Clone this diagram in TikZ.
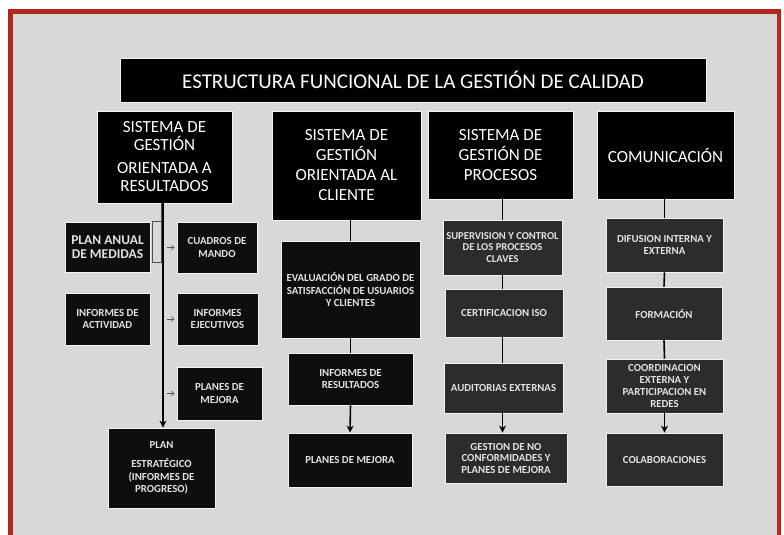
\documentclass[tikz,border=0pt]{standalone}
\usepackage{fontspec}
\setmainfont{Carlito}
\usetikzlibrary{arrows.meta}
\definecolor{frame}{HTML}{B0281E}
\definecolor{bggray}{HTML}{D8D8D8}
\definecolor{boxblack}{HTML}{0E0E0E}
\definecolor{boxgray}{HTML}{2C2C2C}
\definecolor{subtext}{HTML}{E2E2E2}
\begin{document}
\begin{tikzpicture}[x=1pt,y=-1pt,
  hdr/.style={fill=black, draw=white!90!gray, line width=0.8pt, text=white, align=center, inner sep=0pt,
    font=\fontsize{17}{20}\selectfont},
  sub/.style={fill=boxblack, draw=white!90!gray, line width=0.8pt, text=subtext, align=center, inner sep=0pt,
    font=\fontsize{10.8}{12.5}\selectfont\bfseries},
  subg/.style={sub, fill=boxgray},
  link/.style={line width=1.6pt, black},
  arr/.style={link, -{Stealth[length=7pt,width=7pt]}},
  smallarr/.style={gray!70!black, line width=0.6pt, -{Straight Barb[length=3pt,width=5pt]}},
  thinln/.style={gray!60!black, line width=0.7pt}]
\useasboundingbox (0,0) rectangle (784,535);
\fill[white] (0,0) rectangle (784,535);
\begin{scope}
\clip (0,0) rectangle (784,535);
\fill[bggray] (10.5,11.5) rectangle (779,560);
\draw[frame, line width=4.5pt] (10.5,11.5) rectangle (779,560);
\end{scope}

% title
\node[hdr, minimum width=586pt, minimum height=44pt, font=\fontsize{21}{24}\selectfont] (title) at (413,80)
  {ESTRUCTURA FUNCIONAL DE LA GESTIÓN DE CALIDAD};

% headers
\node[hdr, minimum width=135pt, minimum height=92pt, font=\fontsize{17}{18}\selectfont] (h1) at (164.5,157)
  {SISTEMA DE\\GESTIÓN\\[5pt]ORIENTADA A\\RESULTADOS};
\node[hdr, minimum width=149pt, minimum height=109pt] (h2) at (346.5,165.5)
  {SISTEMA DE\\GESTIÓN\\ORIENTADA AL\\CLIENTE};
\node[hdr, minimum width=145pt, minimum height=88pt] (h3) at (500.5,155)
  {SISTEMA DE\\GESTIÓN DE\\PROCESOS};
\node[hdr, minimum width=137pt, minimum height=88pt] (h4) at (665.5,155)
  {COMUNICACIÓN};

% column 1
\node[sub, minimum width=85pt, minimum height=50pt, font=\fontsize{13.5}{14.5}\selectfont\bfseries] (c1a) at (107.5,247)
  {PLAN ANUAL\\DE MEDIDAS};
\node[sub, minimum width=80pt, minimum height=51pt] (c1b) at (217,247.5)
  {CUADROS DE\\MANDO};
\node[sub, minimum width=85pt, minimum height=52pt] (c1c) at (107.5,319)
  {INFORMES DE\\ACTIVIDAD};
\node[sub, minimum width=81pt, minimum height=52pt] (c1d) at (217.5,319)
  {INFORMES\\EJECUTIVOS};
\node[sub, minimum width=85pt, minimum height=53pt] (c1e) at (219.5,393.5)
  {PLANES DE\\MEJORA};
\node[sub, minimum width=107pt, minimum height=80pt] (c1f) at (161.5,468)
  {PLAN\\[7pt]ESTRATÉGICO\\(INFORMES DE\\PROGRESO)};

% column 2
\node[sub, minimum width=139pt, minimum height=97pt] (c2a) at (350.5,289.5)
  {EVALUACIÓN DEL GRADO DE\\SATISFACCIÓN DE USUARIOS\\Y CLIENTES};
\node[sub, minimum width=125pt, minimum height=52pt] (c2b) at (350.5,379)
  {INFORMES DE\\RESULTADOS};
\node[sub, minimum width=124pt, minimum height=54pt] (c2c) at (350,460)
  {PLANES DE MEJORA};

% column 3
\node[subg, minimum width=119pt, minimum height=55pt, font=\fontsize{10.6}{11.5}\selectfont\bfseries] (c3a) at (502.5,247.5)
  {SUPERVISION Y CONTROL\\DE LOS PROCESOS\\CLAVES};
\node[subg, minimum width=118pt, minimum height=48pt] (c3b) at (504,313)
  {CERTIFICACION ISO};
\node[subg, minimum width=119pt, minimum height=50pt] (c3c) at (503.5,388)
  {AUDITORIAS EXTERNAS};
\node[subg, minimum width=122pt, minimum height=50pt, font=\fontsize{10.8}{11.5}\selectfont\bfseries] (c3d) at (506,458)
  {GESTION DE NO\\CONFORMIDADES Y\\PLANES DE MEJORA};

% column 4
\node[subg, minimum width=117pt, minimum height=54pt] (c4a) at (664.5,245)
  {DIFUSION INTERNA Y\\EXTERNA};
\node[subg, minimum width=116pt, minimum height=53pt] (c4b) at (664,313.5)
  {FORMACIÓN};
\node[subg, minimum width=117pt, minimum height=54pt, font=\fontsize{10.8}{12.2}\selectfont\bfseries] (c4c) at (664.5,386)
  {COORDINACION\\EXTERNA Y\\PARTICIPACION EN\\REDES};
\node[subg, minimum width=117pt, minimum height=53pt] (c4d) at (664.5,459.5)
  {COLABORACIONES};

% column 1 connectors
\coordinate (topc1) at ([xshift=1.5pt]h1.south -| c1f.north);
\coordinate (botc1) at ([xshift=1.5pt]c1f.north);
\draw[arr] (topc1) -- (botc1);
\draw[thinln] ([xshift=11pt]c1a.north east |- h1.south) -- ([xshift=11pt]c1a.north east);
\draw[thinln] ([xshift=2pt]c1a.north east) rectangle ([xshift=11pt,yshift=10pt]c1a.south east);
\draw[smallarr] ([xshift=-10pt]c1b.west) -- ([xshift=-2pt]c1b.west);
\draw[smallarr] ([xshift=-10pt]c1d.west) -- ([xshift=-2pt]c1d.west);
\draw[smallarr] ([xshift=-10pt]c1e.west) -- ([xshift=-2pt]c1e.west);

% column 2 connectors
\draw[link] (h2.south -| c2a.north) -- (c2a.north);
\draw[link] (c2a.south) -- (c2b.north);
\draw[arr] (c2b.south) -- (c2c.north);

% column 3 connectors
\draw[link] (h3.south -| c3a.north) -- (c3a.north);
\draw[link] (c3a.south) -- (c3a.south |- c3b.north);
\draw[link] (c3b.south -| c3a.south) -- (c3a.south |- c3c.north);
\draw[arr] (c3c.south -| c3a.south) -- (c3a.south |- c3d.north);

% column 4 connectors
\draw[link] (h4.south -| c4a.north) -- (c4a.north);
\draw[link] (c4a.south) -- (c4b.north);
\draw[link] (c4b.south) -- (c4c.north);
\draw[arr] (c4c.south) -- (c4d.north);
\end{tikzpicture}
\end{document}
